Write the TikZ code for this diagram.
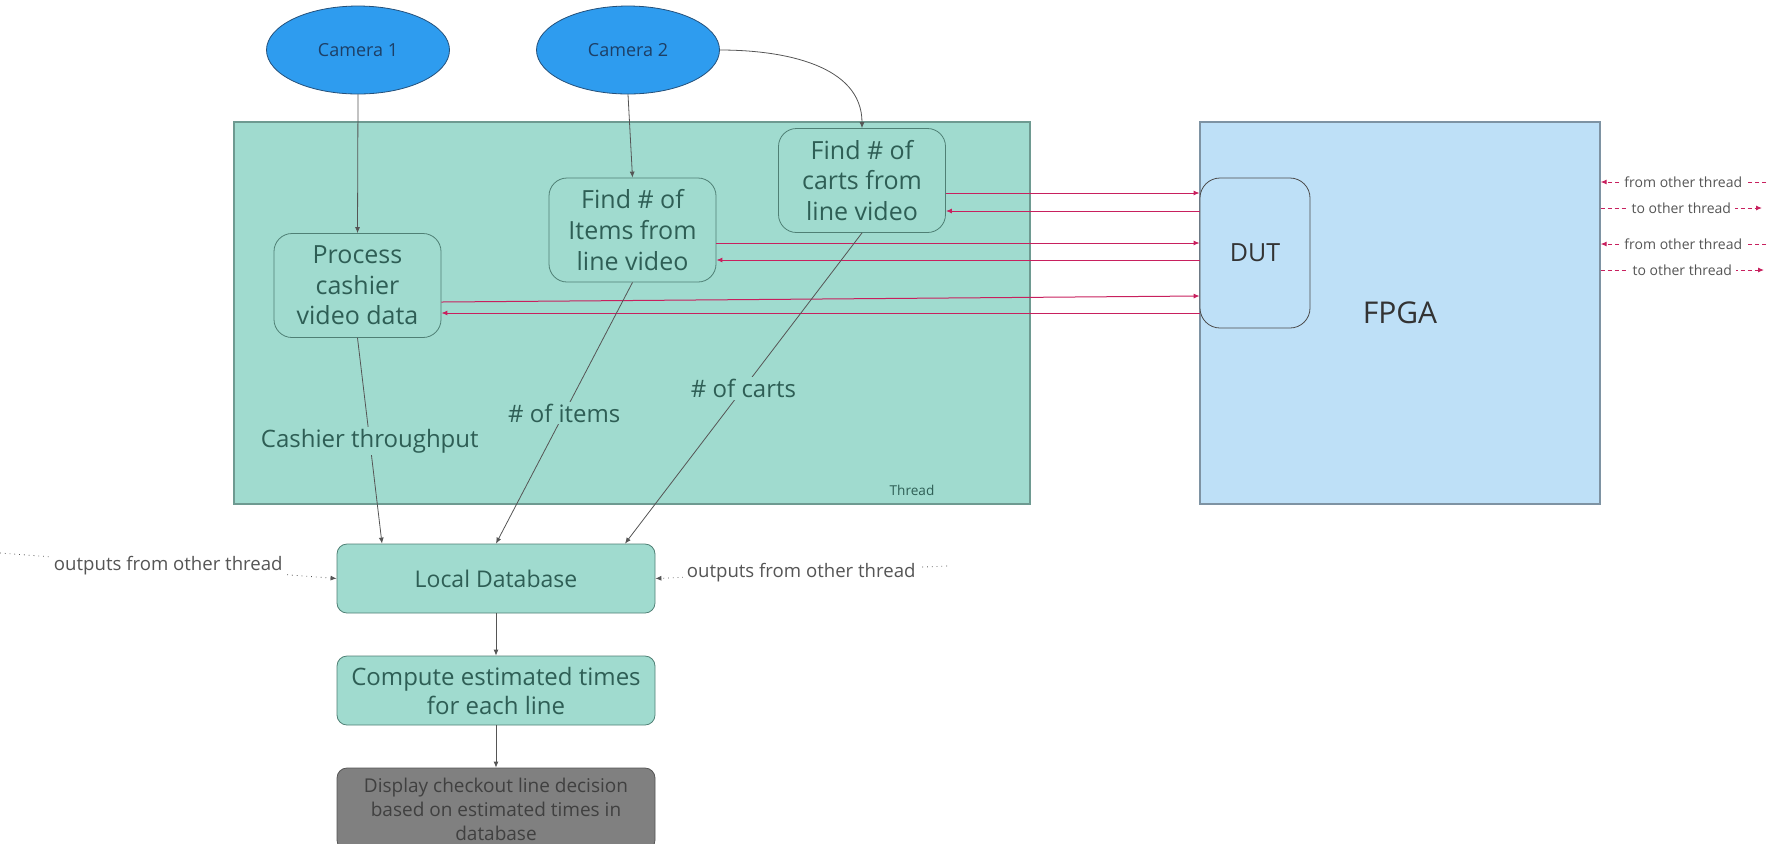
\documentclass[tikz,border=0pt]{standalone}
\usepackage{fontspec}
\setmainfont{Open Sans}
\usetikzlibrary{arrows.meta, positioning, shapes.geometric, calc}

\definecolor{threadfill}{HTML}{A0DBCF}
\definecolor{threadedge}{HTML}{6E9A91}
\definecolor{taskedge}{HTML}{4F8075}
\definecolor{tasktext}{HTML}{2E5E55}
\definecolor{fpgafill}{HTML}{BEE0F7}
\definecolor{fpgaedge}{HTML}{7E93A3}
\definecolor{camfill}{HTML}{2E9CEF}
\definecolor{camedge}{HTML}{24507A}
\definecolor{camtext}{HTML}{1D3F66}
\definecolor{shownfill}{HTML}{808080}
\definecolor{shownedge}{HTML}{555555}
\definecolor{linegray}{HTML}{555555}
\definecolor{sigred}{HTML}{C8205E}
\definecolor{notegray}{HTML}{555555}

\begin{document}
\begin{tikzpicture}[
	x=0.5pt, y=-0.5pt,
	camera/.style={ellipse, draw=camedge, fill=camfill, minimum width=91.5pt, minimum height=44pt, text=camtext, font=\fontsize{9}{11}\selectfont},
	task/.style={rectangle, draw=taskedge, fill=threadfill, rounded corners=9pt, minimum width=83.5pt, minimum height=52pt, align=center, text=tasktext, font=\fontsize{12.5}{15.3}\selectfont},
	store/.style={rectangle, draw=taskedge, fill=threadfill, rounded corners=5pt, minimum width=159pt, minimum height=34.5pt, align=center, text=tasktext, font=\fontsize{12}{14.5}\selectfont},
	frame/.style={rectangle, draw=threadedge, line width=0.6pt},
	arrow/.style={-{Latex[length=3pt, width=2.5pt]}, draw=linegray, line width=0.4pt},
	sig/.style={-{Latex[length=3pt, width=2.5pt]}, draw=sigred, line width=0.5pt},
	ext/.style={sig, dash pattern=on 2pt off 1.5pt},
	outer/.style={arrow, dotted},
	tag/.style={fill=threadfill, inner sep=1pt, text=tasktext, font=\fontsize{12}{14}\selectfont},
	note/.style={fill=white, inner sep=2pt, text=notegray}
]
	\useasboundingbox (0,0) rectangle (1771,843);

	% Containers
	\node[frame, fill=threadfill, minimum width=398pt, minimum height=191pt] (thread) at (632,313) {};
	\node[frame, draw=fpgaedge, fill=fpgafill, minimum width=200pt, minimum height=191pt, text=black!80, font=\fontsize{15}{18}\selectfont] (fpga) at (1400,313) {FPGA};
	\node[text=tasktext, font=\fontsize{6.8}{8}\selectfont] (threadname) at (912,490) {Thread};

	% Cameras
	\node[camera] (cam1) at (358,50) {Camera 1};
	\node[camera] (cam2) at (628,50) {Camera 2};

	% Thread tasks
	\node[task] (cashier) at (357.5,285.5) {Process\\cashier\\video data};
	\node[task] (items) at (632.5,230) {Find \# of\\Items from\\line video};
	\node[task] (carts) at (862,180.5) {Find \# of\\carts from\\line video};

	% FPGA
	\node[rectangle, draw=black!70, fill=fpgafill, rounded corners=10pt, minimum width=55pt, minimum height=75pt, text=black!80, font=\fontsize{12.5}{15}\selectfont] (dut) at (1255,253) {DUT};

	% Database and output
	\node[store, font=\fontsize{11.5}{14}\selectfont] (db) at (496,578.5) {Local Database};
	\node[store] (compute) at (496,690.5) {Compute estimated times\\for each line};
	\node[store, draw=shownedge, fill=shownfill, minimum height=41pt, text=black!75, font=\fontsize{9.5}{12}\selectfont] (shown) at (496,809) {Display checkout line decision\\based on estimated times in\\database};

	% Camera feeds
	\draw[arrow] (cam1.south) -- (cashier.north);
	\draw[arrow] (cam2.south) -- (items.north);
	\draw[arrow] (cam2.east) to[out=0, in=90] (carts.north);

	% DUT links
	\draw[sig] ([yshift=-6.25pt]carts.east) -- ([yshift=-6.25pt]carts.east -| dut.west);
	\draw[sig] ([yshift=-15.25pt]carts.east -| dut.west) -- ([yshift=-15.25pt]carts.east);
	\draw[sig] ([yshift=-6.5pt]items.east) -- ([yshift=-6.5pt]items.east -| dut.west);
	\draw[sig] ([yshift=-15pt]items.east -| dut.west) -- ([yshift=-15pt]items.east);
	\draw[sig] ([yshift=-8.25pt]cashier.east) -- ([yshift=-5.25pt]cashier.east -| dut.west);
	\draw[sig] ([yshift=-13.75pt]cashier.east -| dut.west) -- ([yshift=-13.75pt]cashier.east);

	% Results into database
	\draw[arrow] (cashier.south) -- node[tag]{Cashier throughput} ([xshift=-57pt]db.north);
	\draw[arrow] (items.south) -- node[tag]{\# of items} (db.north);
	\draw[arrow] (carts.south) -- node[tag]{\# of carts} ([xshift=64.5pt]db.north);
	\draw[arrow] (db.south) -- (compute.north);
	\draw[arrow] (compute.south) -- (shown.north);

	% Other threads
	\coordinate (inL) at (0,553);
	\coordinate (inR) at (947,566);
	\draw[outer] (inL) -- node[note, font=\fontsize{9.3}{11}\selectfont]{outputs from other thread} (db.west);
	\draw[outer] (inR) -- node[note, font=\fontsize{9.3}{11}\selectfont]{outputs from other thread} (db.east);

	\coordinate (ext1) at (1766,182);
	\coordinate (ext2) at (1762,208);
	\coordinate (ext3) at (1766,244);
	\coordinate (ext4) at (1764,270);
	\draw[ext] (ext1) -- node[note, font=\fontsize{7}{8}\selectfont]{from other thread} ([yshift=65.5pt]fpga.east);
	\draw[ext] ([yshift=52.5pt]fpga.east) -- node[note, font=\fontsize{7}{8}\selectfont]{to other thread} (ext2);
	\draw[ext] (ext3) -- node[note, font=\fontsize{7}{8}\selectfont]{from other thread} ([yshift=34.5pt]fpga.east);
	\draw[ext] ([yshift=21.5pt]fpga.east) -- node[note, font=\fontsize{7}{8}\selectfont]{to other thread} (ext4);
\end{tikzpicture}
\end{document}
